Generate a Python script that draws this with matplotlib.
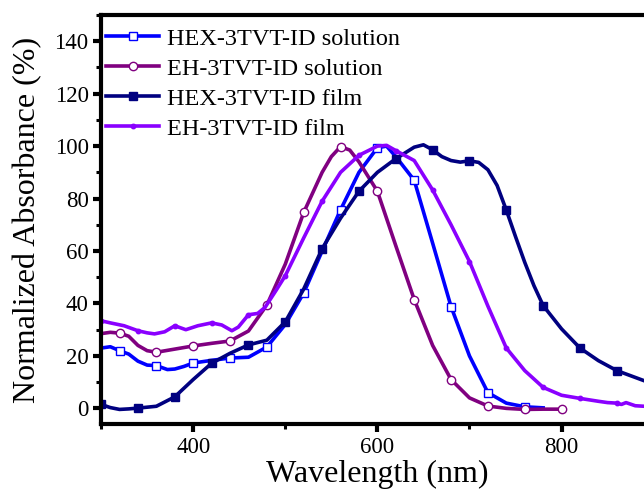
import matplotlib
matplotlib.use("Agg")
import matplotlib.pyplot as plt
from matplotlib.ticker import MultipleLocator

plt.rcParams['font.family'] = ['Liberation Serif', 'DejaVu Serif']

# HEX-3TVT-ID solution
hex_sol_wl = [300, 310, 320, 330, 340, 350, 360, 372, 380, 390, 400, 420, 440, 460, 480,
              500, 520, 540, 560, 580, 600, 610, 620, 640, 660, 680, 700, 720, 740, 760, 780]
hex_sol_abs = [23, 23.5, 22, 20.7, 18, 16.5, 16.3, 14.8, 15, 16, 17.3, 18.3, 19.2, 19.5, 23.4,
               32, 44, 60, 75.7, 90, 99.4, 100, 96, 87, 63, 38.8, 20, 6, 2, 0.6, 0.2]

# EH-3TVT-ID solution
eh_sol_wl = [300, 310, 320, 330, 340, 350, 360, 380, 400, 420, 440, 460, 480, 500, 520,
             540, 550, 560, 570, 580, 600, 620, 640, 660, 680, 700, 720, 740, 760, 780, 800]
eh_sol_abs = [28.5, 29, 28.7, 27.5, 24, 22, 21.4, 22.6, 23.8, 24.8, 25.7, 29.5, 39.4, 55, 74.7,
              90, 96, 99.8, 98.5, 94, 82.8, 62, 41.5, 24, 11, 4, 0.9, 0, -0.4, -0.3, -0.3]

# HEX-3TVT-ID film
hex_film_wl = [300, 310, 320, 330, 340, 360, 380, 400, 420, 440, 460, 480, 500, 520, 540,
               560, 580, 600, 620, 640, 650, 660, 670, 680, 690, 700, 710, 720, 730, 740,
               750, 760, 770, 780, 800, 820, 840, 860, 880, 890]
hex_film_abs = [1.5, 0.3, -0.4, -0.2, 0.1, 0.8, 4.4, 11, 17.2, 21, 24.2, 26, 33, 45.5, 60.9,
                72.5, 82.8, 90, 95.2, 99.6, 100.5, 98.6, 96, 94.5, 93.9, 94.4, 93.8, 91, 85, 75.6,
                65.5, 55.7, 46.8, 39.2, 30.3, 23, 18.2, 14.4, 11.8, 10.5]

# EH-3TVT-ID film
eh_film_wl = [300, 310, 325, 340, 350, 358, 369, 380, 392, 405, 420, 431, 442, 449, 460,
              470, 478, 490, 500, 520, 540, 560, 580, 600, 610, 620, 640, 660, 680, 700,
              720, 740, 760, 780, 800, 820, 840, 850, 860, 865, 870, 880, 890]
eh_film_abs = [33.4, 32.6, 31.5, 29.6, 28.8, 28.4, 29.2, 31.5, 30, 31.5, 32.6, 31.8, 29.6, 31, 35.7,
               36.2, 38.5, 45, 50.6, 65, 79, 90, 96.5, 100, 100.3, 98.3, 94.5, 83.3, 70, 56,
               39, 23, 14.4, 8, 5, 3.8, 2.7, 2.2, 2, 1.5, 2.2, 1, 0.8]

labels = ['HEX-3TVT-ID solution', 'EH-3TVT-ID solution', 'HEX-3TVT-ID film', 'EH-3TVT-ID film']


def marks(wl, start):
    # markers every 40 nm, like the original export
    return [i for i, w in enumerate(wl) if w >= start and (w - start) % 40 == 0]


fig = plt.figure(figsize=(6.44, 4.92), dpi=100)
ax = fig.add_axes([0.157, 0.138, 0.858, 0.8315])

lw = 2.6
ax.plot(hex_sol_wl, hex_sol_abs, color='#0000ff', lw=lw, marker='s', ms=5.5,
        mfc='white', mec='#0000ff', mew=1.0, markevery=marks(hex_sol_wl, 320), label=labels[0])
ax.plot(eh_sol_wl, eh_sol_abs, color='#800080', lw=lw, marker='o', ms=6,
        mfc='white', mec='#800080', mew=1.0, markevery=marks(eh_sol_wl, 320), label=labels[1])
ax.plot(hex_film_wl, hex_film_abs, color='#000080', lw=lw, marker='s', ms=6,
        mfc='#000080', mec='#000080', markevery=marks(hex_film_wl, 300), label=labels[2])
ax.plot(eh_film_wl, eh_film_abs, color='#8a00ff', lw=lw, marker='o', ms=3.2,
        mfc='#8a00ff', mec='#8a00ff', markevery=marks(eh_film_wl, 300), label=labels[3])

ax.set_xlim(300, 900)
ax.set_ylim(-6, 150)
ax.xaxis.set_major_locator(MultipleLocator(200))
ax.xaxis.set_minor_locator(MultipleLocator(100))
ax.yaxis.set_minor_locator(MultipleLocator(10))
ax.set_yticks(range(0, 141, 20))

for s in ax.spines.values():
    s.set_linewidth(3.0)
ax.tick_params(which='major', direction='out', length=6, width=3.0, labelsize=16.5, pad=3)
ax.tick_params(which='minor', direction='out', length=3.5, width=2.2)

ax.set_xlabel('Wavelength (nm)', fontsize=23, labelpad=2)
ax.set_ylabel('Normalized Absorbance (%)', fontsize=23, labelpad=9)

ax.legend(loc='upper left', bbox_to_anchor=(0.0, 0.981), frameon=False, fontsize=17.5,
          handlelength=2.2, handletextpad=0.3, labelspacing=0.33, borderaxespad=0.0,
          borderpad=0.2)

fig.savefig('out.png', dpi=100)
